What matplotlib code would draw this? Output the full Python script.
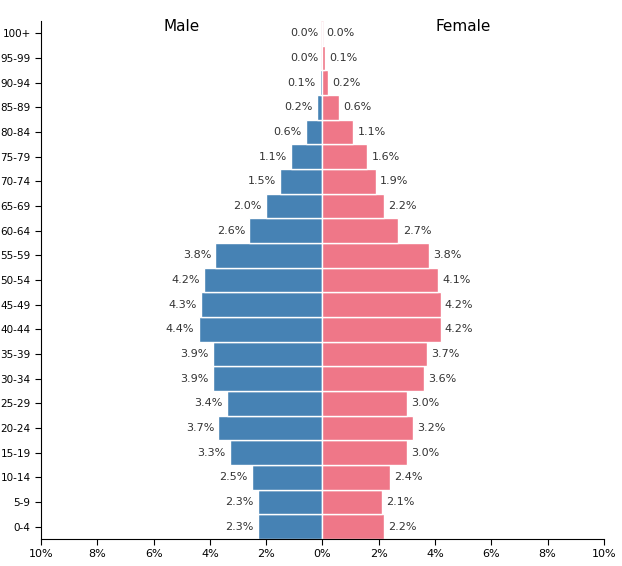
import matplotlib.pyplot as plt

ages = ['0-4', '5-9', '10-14', '15-19', '20-24', '25-29', '30-34', '35-39', '40-44',
        '45-49', '50-54', '55-59', '60-64', '65-69', '70-74', '75-79', '80-84',
        '85-89', '90-94', '95-99', '100+']
male = [2.3, 2.3, 2.5, 3.3, 3.7, 3.4, 3.9, 3.9, 4.4, 4.3, 4.2, 3.8, 2.6, 2.0, 1.5,
        1.1, 0.6, 0.2, 0.1, 0.0, 0.0]
female = [2.2, 2.1, 2.4, 3.0, 3.2, 3.0, 3.6, 3.7, 4.2, 4.2, 4.1, 3.8, 2.7, 2.2, 1.9,
          1.6, 1.1, 0.6, 0.2, 0.1, 0.0]
ticks = [-10, -8, -6, -4, -2, 0, 2, 4, 6, 8, 10]

fig = plt.figure(figsize=(6.22, 5.66), dpi=100)
ax = fig.add_axes([0.0659, 0.0477, 0.905, 0.915])
y = range(len(ages))
ax.barh(y, [-m for m in male], height=1.0, color='#4682b4', edgecolor='white', linewidth=1)
ax.barh(y, female, height=1.0, color='#ef7788', edgecolor='white', linewidth=1)
ax.axvline(0, color='#f3a6b0', lw=1, zorder=0)

for i, (m, f) in enumerate(zip(male, female)):
    ax.text(-m - 0.15, i, f'{m:.1f}%', ha='right', va='center', fontsize=8, color='#333')
    ax.text(f + 0.15, i, f'{f:.1f}%', ha='left', va='center', fontsize=8, color='#333')

ax.text(-5, 20.3, 'Male', ha='center', va='center', fontsize=11)
ax.text(5, 20.3, 'Female', ha='center', va='center', fontsize=11)

ax.set_xlim(-10, 10)
ax.set_ylim(-0.5, 20.5)
ax.set_xticks(ticks)
ax.set_xticklabels([f'{abs(t)}%' for t in ticks], fontsize=8)
ax.set_yticks(list(y))
ax.set_yticklabels(ages, fontsize=7.5)
for s in ['top', 'right']:
    ax.spines[s].set_visible(False)
ax.tick_params(length=4)

fig.savefig('out.png')
